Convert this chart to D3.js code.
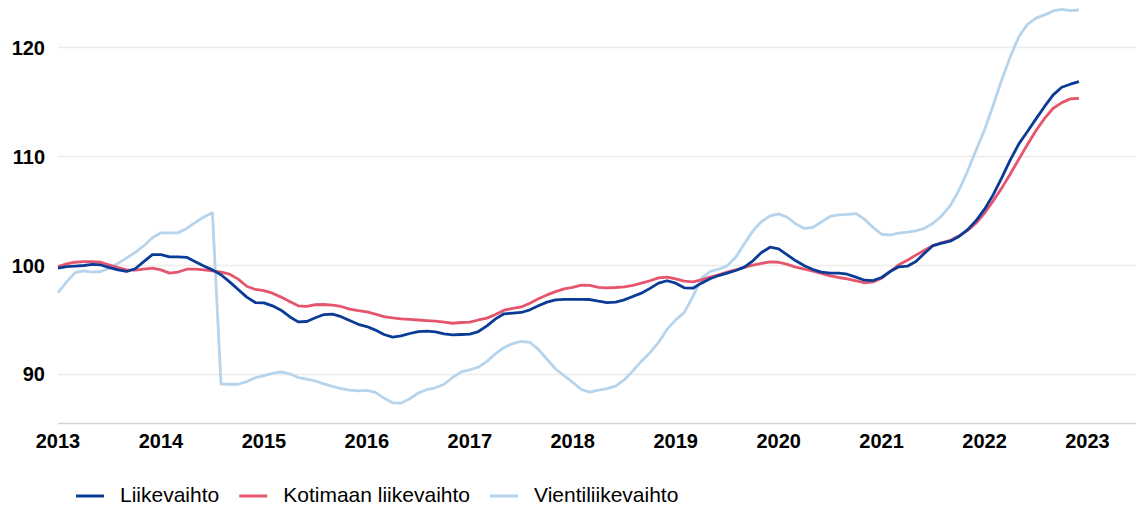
<!DOCTYPE html>
<html>
<head>
<meta charset="utf-8">
<script src="https://cdn.jsdelivr.net/npm/d3@7"></script>
<style>
  body { margin: 0; background: #fff; }
  svg { display: block; font-family: "Liberation Sans", Arial, sans-serif; }
</style>
</head>
<body>
<div id="chart"></div>
<script>
// monthly index, Jan 2013 .. Dec 2022
var startYear = 2013;
var liikevaihto = [
  99.76, 99.9, 99.95, 100.0, 100.1, 100.05, 99.8, 99.6, 99.45, 99.7, 100.35, 101.0,
  101.0, 100.8, 100.8, 100.75, 100.35, 99.95, 99.6, 99.15, 98.5, 97.8, 97.1, 96.6,
  96.57, 96.3, 95.9, 95.3, 94.83, 94.86, 95.2, 95.5, 95.53, 95.3, 94.95, 94.6,
  94.4, 94.07, 93.67, 93.43, 93.55, 93.76, 93.94, 93.97, 93.9, 93.73, 93.64, 93.67,
  93.7, 93.94, 94.46, 95.1, 95.57, 95.63, 95.69, 95.93, 96.3, 96.64, 96.85, 96.9,
  96.9, 96.9, 96.88, 96.73, 96.6, 96.64, 96.85, 97.16, 97.46, 97.9, 98.38, 98.6,
  98.38, 97.95, 97.92, 98.38, 98.78, 99.08, 99.3, 99.54, 99.85, 100.43, 101.2, 101.68,
  101.53, 100.98, 100.43, 99.97, 99.63, 99.39, 99.3, 99.3, 99.2, 98.93, 98.65, 98.62,
  98.9, 99.45, 99.88, 99.94, 100.37, 101.13, 101.83, 102.05, 102.23, 102.66, 103.27, 104.1,
  105.17, 106.48, 108.04, 109.7, 111.16, 112.3, 113.46, 114.6, 115.66, 116.36, 116.64, 116.88
];
var kotimaan = [
  99.9, 100.15, 100.3, 100.35, 100.35, 100.3, 100.05, 99.8, 99.6, 99.57, 99.66, 99.76,
  99.6, 99.3, 99.4, 99.66, 99.66, 99.6, 99.5, 99.4, 99.2, 98.75, 98.1, 97.8,
  97.7, 97.46, 97.1, 96.7, 96.3, 96.24, 96.4, 96.42, 96.36, 96.24, 96.0, 95.87,
  95.75, 95.53, 95.3, 95.2, 95.1, 95.05, 95.0, 94.95, 94.9, 94.8, 94.7, 94.77,
  94.8, 95.0, 95.17, 95.5, 95.9, 96.06, 96.2, 96.54, 96.94, 97.3, 97.6, 97.86,
  98.0, 98.2, 98.17, 98.0, 97.95, 97.98, 98.04, 98.17, 98.38, 98.6, 98.87, 98.93,
  98.78, 98.56, 98.5, 98.68, 98.93, 99.14, 99.39, 99.6, 99.82, 100.03, 100.2, 100.34,
  100.3, 100.1, 99.85, 99.66, 99.48, 99.27, 99.05, 98.9, 98.78, 98.6, 98.4, 98.5,
  98.84, 99.45, 100.06, 100.49, 100.95, 101.4, 101.83, 102.08, 102.3, 102.72, 103.2, 103.88,
  104.8, 105.93, 107.1, 108.4, 109.76, 111.1, 112.39, 113.5, 114.43, 114.95, 115.29, 115.35
];
var vienti = [
  97.5, 98.5, 99.35, 99.5, 99.4, 99.45, 99.75, 100.2, 100.7, 101.2, 101.8, 102.55,
  103.0, 103.0, 103.0, 103.4, 103.95, 104.45, 104.85, 89.14, 89.1, 89.1, 89.35, 89.7,
  89.9, 90.1, 90.24, 90.06, 89.72, 89.57, 89.4, 89.14, 88.9, 88.7, 88.56, 88.5,
  88.53, 88.35, 87.83, 87.4, 87.37, 87.77, 88.3, 88.62, 88.78, 89.1, 89.72, 90.24,
  90.43, 90.67, 91.2, 91.9, 92.48, 92.84, 93.03, 92.94, 92.3, 91.4, 90.5, 89.88,
  89.27, 88.62, 88.38, 88.56, 88.7, 88.93, 89.5, 90.33, 91.22, 92.0, 92.94, 94.16,
  95.0, 95.7, 97.15, 98.84, 99.45, 99.66, 99.97, 100.76, 101.99, 103.18, 104.04, 104.56,
  104.74, 104.43, 103.82, 103.4, 103.5, 104.0, 104.5, 104.65, 104.7, 104.77, 104.25, 103.5,
  102.87, 102.8, 102.97, 103.06, 103.18, 103.42, 103.88, 104.56, 105.5, 106.88, 108.62, 110.55,
  112.45, 114.68, 117.03, 119.17, 121.0, 122.14, 122.7, 123.0, 123.36, 123.5, 123.4, 123.45
];
var yTicks = [90, 100, 110, 120];
var xTicks = [2013, 2014, 2015, 2016, 2017, 2018, 2019, 2020, 2021, 2022, 2023];
var seriesNames = ["Liikevaihto", "Kotimaan liikevaihto", "Vientiliikevaihto"];
var colors = ["#0a3b96", "#e5556e", "#b6d4ec"];

var width = 1140, height = 508;
var left = 58, right = 1136, bottom = 423.5;

var svg = d3.select("#chart").append("svg")
  .attr("width", width)
  .attr("height", height);

var x = d3.scaleLinear().domain([2013, 2023]).range([left, 1087.5]);
var y = d3.scaleLinear().domain([85.5, 124]).range([bottom, 4]);

// grid
svg.selectAll(".grid").data(yTicks).enter().append("line")
  .attr("class", "grid")
  .attr("x1", left).attr("x2", right)
  .attr("y1", function(d){ return y(d); })
  .attr("y2", function(d){ return y(d); })
  .attr("stroke", "#ececec")
  .attr("stroke-width", 1.5);

// base line
svg.append("line")
  .attr("x1", left).attr("x2", right)
  .attr("y1", bottom).attr("y2", bottom)
  .attr("stroke", "#d4d4d4")
  .attr("stroke-width", 1.5);

// y labels
svg.selectAll(".ylab").data(yTicks).enter().append("text")
  .attr("x", 45)
  .attr("y", function(d){ return y(d); })
  .attr("dy", "0.35em")
  .attr("text-anchor", "end")
  .attr("font-size", 20)
  .attr("font-weight", "bold")
  .attr("fill", "#000")
  .text(function(d){ return d; });

// x labels
svg.selectAll(".xlab").data(xTicks).enter().append("text")
  .attr("x", function(d){ return x(d); })
  .attr("y", 448)
  .attr("text-anchor", "middle")
  .attr("font-size", 20)
  .attr("font-weight", "bold")
  .attr("fill", "#000")
  .text(function(d){ return d; });

var line = d3.line()
  .x(function(d, i){ return x(startYear + i / 12); })
  .y(function(d){ return y(d); });

var allSeries = [liikevaihto, kotimaan, vienti];
// light blue first, dark blue on top
[2, 1, 0].forEach(function(k){
  svg.append("path")
    .datum(allSeries[k])
    .attr("d", line)
    .attr("fill", "none")
    .attr("stroke", colors[k])
    .attr("stroke-width", 2.8)
    .attr("stroke-linejoin", "round");
});

// legend
var lx = 76, ly = 495;
seriesNames.forEach(function(name, k){
  svg.append("line")
    .attr("x1", lx).attr("x2", lx + 28)
    .attr("y1", ly + 1).attr("y2", ly + 1)
    .attr("stroke", colors[k])
    .attr("stroke-width", 3);
  var t = svg.append("text")
    .attr("x", lx + 44)
    .attr("y", ly)
    .attr("dy", "0.35em")
    .attr("font-size", 21)
    .attr("fill", "#000")
    .text(name);
  lx = lx + 44 + t.node().getComputedTextLength() + 20;
});
</script>
</body>
</html>
